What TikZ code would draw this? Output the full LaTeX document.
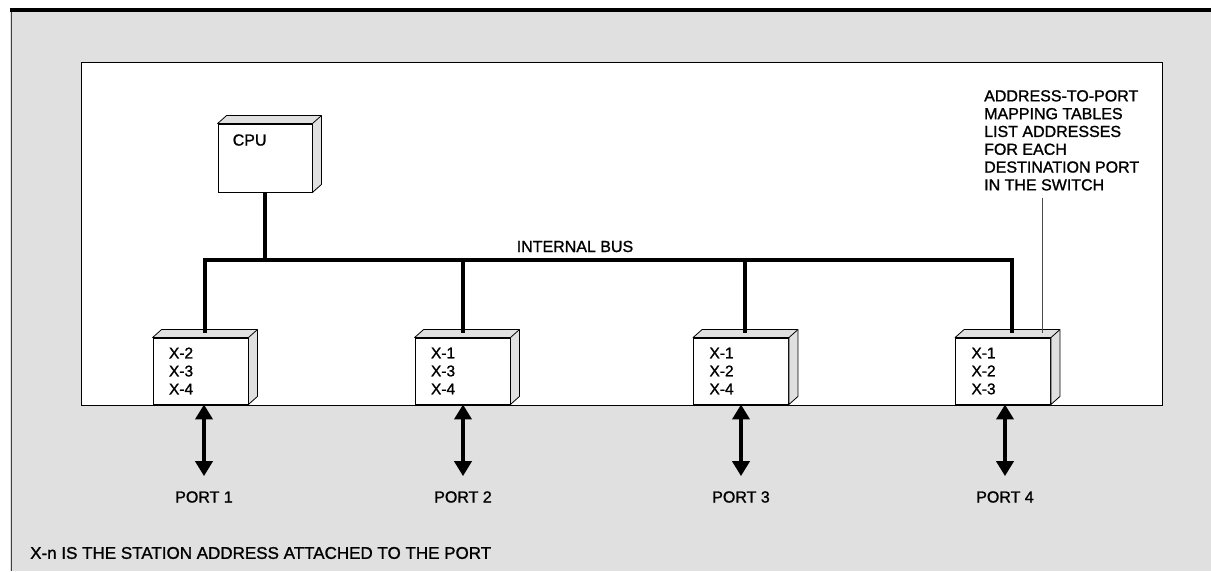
\documentclass[tikz,border=0pt]{standalone}
\usepackage{fontspec}
\setmainfont{Liberation Sans}[FakeBold=1.2]
\usetikzlibrary{arrows.meta,calc}
\definecolor{stip}{gray}{0.88}
\tikzset{
  boxfront/.style={draw=black, line width=0.9pt, fill=white, minimum width=95pt, minimum height=66pt,
    inner sep=0pt, font=\fontsize{15.5}{18}\selectfont, align=left, text width=63pt},
  face/.style={draw=black, line width=0.8pt, fill=stip, line join=round},
  bus/.style={line width=4.5pt},
  portarrow/.style={line width=4pt, {Triangle[width=17pt,length=15pt]}-{Triangle[width=17pt,length=15pt]}},
  lbl/.style={font=\fontsize{16}{18}\selectfont, inner sep=0pt},
  leader/.style={draw=black!70, line width=0.6pt},
}
\newcommand\boxfaces[1]{%
  \draw[face] (#1.north west) -- ([shift={(9,-8)}]#1.north west) -- ([shift={(9,-8)}]#1.north east)
    -- ([shift={(9,-8)}]#1.south east) -- (#1.south east) -- (#1.north east) -- cycle;
  \draw[face] (#1.north east) -- ([shift={(9,-8)}]#1.north east);
}
\begin{document}
\begin{tikzpicture}[x=1pt,y=-1pt]
\useasboundingbox (0,0) rectangle (1211,571);
% background
\fill[stip] (10,12) rectangle (1211,571);
\draw[line width=4pt] (10,10) -- (1211,10);
\draw[black!75, line width=1pt] (11.5,12) -- (11.5,571);
\node[draw, fill=white, line width=0.9pt, minimum width=1081pt, minimum height=343pt, inner sep=0pt] (switch) at (621.5,233.5) {};
% CPU
\node[boxfront, minimum width=94pt, minimum height=68pt, text width=64pt] (cpu) at (265,158) {};
\boxfaces{cpu}
\node[lbl, anchor=base west] (cpulbl) at ([shift={(15,22)}]cpu.north west) {CPU};
% port boxes
\node[boxfront] (b1) at (200.5,371) {X-2\\X-3\\X-4};
\node[boxfront] (b2) at (462.5,371) {X-1\\X-3\\X-4};
\node[boxfront] (b3) at (741,371) {X-1\\X-2\\X-4};
\node[boxfront] (b4) at (1003,371) {X-1\\X-2\\X-3};
\boxfaces{b1}\boxfaces{b2}\boxfaces{b3}\boxfaces{b4}
% bus
\coordinate (busL) at (205,260);
\coordinate (busR) at (1012,260);
\draw[bus] ([shift={(4.5,-5)}]b1.north) -- (busL) -- (busR) -- ([shift={(9,-5)}]b4.north);
\draw[bus] ([shift={(0.5,-5)}]b2.north) -- ([xshift=0.5pt]b2.north |- busL);
\draw[bus] ([shift={(4,-5)}]b3.north) -- ([xshift=4pt]b3.north |- busL);
\draw[bus] (cpu.south) -- (cpu.south |- busL);
\node[lbl, anchor=base] (buslbl) at (575,252) {INTERNAL BUS};
% note
\node[lbl, align=left, anchor=north west, font=\fontsize{16}{17.8}\selectfont] (note) at (984,90)
  {ADDRESS-TO-PORT\\MAPPING TABLES\\LIST ADDRESSES\\FOR EACH\\DESTINATION PORT\\IN THE SWITCH};
\draw[leader] ($(note.south)+(-19,7)$) -- ($(b4.north -| note.south)+(-19,-5)$);
% ports
\node[lbl] (p1) at (204,497) {PORT 1};
\node[lbl] (p2) at (463,497) {PORT 2};
\node[lbl] (p3) at (741,497) {PORT 3};
\node[lbl] (p4) at (1005,497) {PORT 4};
\draw[portarrow] (p1.north |- b1.south) -- ([yshift=15pt]p1.north);
\draw[portarrow] (p2.north |- b2.south) -- ([yshift=15pt]p2.north);
\draw[portarrow] (p3.north |- b3.south) -- ([yshift=15pt]p3.north);
\draw[portarrow] (p4.north |- b4.south) -- ([yshift=15pt]p4.north);
% footer
\node[lbl, anchor=west, font=\fontsize{17}{19}\selectfont] (foot) at (30,553) {X-n IS THE STATION ADDRESS ATTACHED TO THE PORT};
\end{tikzpicture}
\end{document}
